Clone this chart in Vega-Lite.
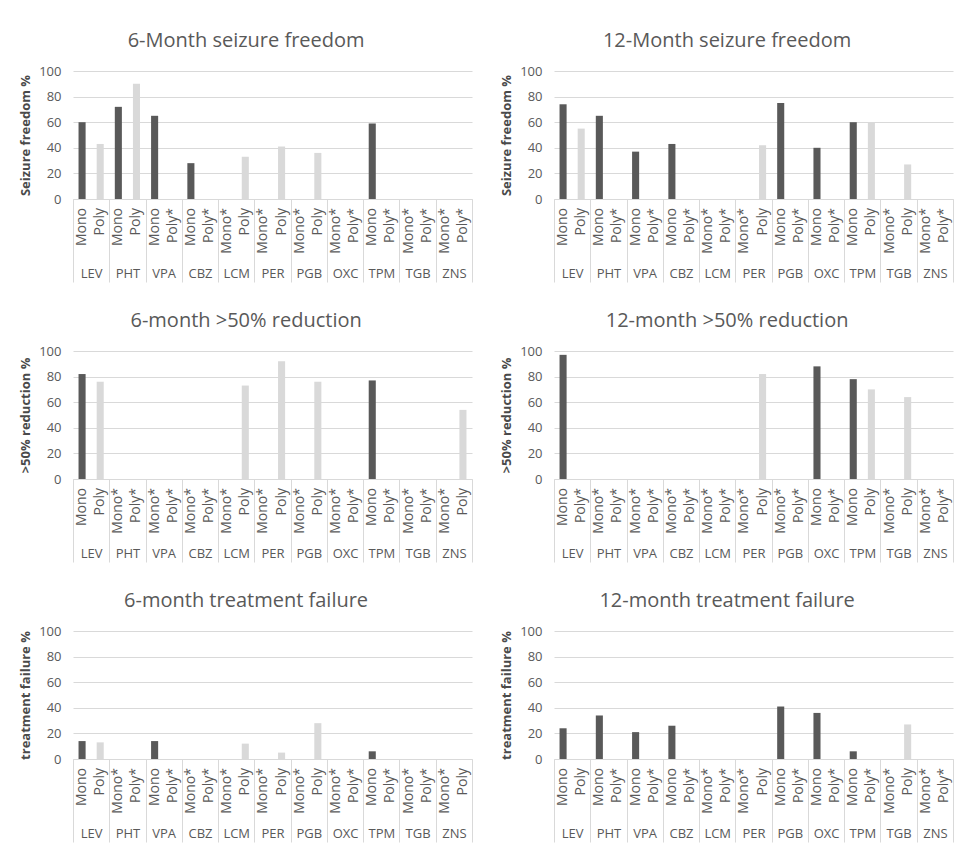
{
  "$schema": "https://vega.github.io/schema/vega-lite/v6.json",
  "padding": {"left": 19, "top": 31, "right": 0, "bottom": 0},
  "background": "white",
  "config": {
    "font": "Open Sans",
    "view": {"stroke": null},
    "title": {"fontSize": 20, "fontWeight": "normal", "color": "#595959", "anchor": "middle", "frame": "bounds", "offset": 14},
    "axis": {"labelColor": "#595959", "labelFontSize": 13, "titleColor": "#4A4A4A", "titleFontSize": 13, "titleFontWeight": "bold"},
    "axisY": {"values": [0, 20, 40, 60, 80, 100], "tickCount": 6, "labelOverlap": false, "domain": false, "ticks": false, "gridColor": "#D9D9D9", "labelPadding": 12, "titlePadding": 6}
  },
  "datasets": {
    "rows": [
      {"panel": "p1", "drug": "LEV", "arm": "Mono", "label": "Mono", "value": 60},
      {"panel": "p1", "drug": "LEV", "arm": "Poly", "label": "Poly", "value": 43},
      {"panel": "p1", "drug": "PHT", "arm": "Mono", "label": "Mono", "value": 72},
      {"panel": "p1", "drug": "PHT", "arm": "Poly", "label": "Poly", "value": 90},
      {"panel": "p1", "drug": "VPA", "arm": "Mono", "label": "Mono", "value": 65},
      {"panel": "p1", "drug": "VPA", "arm": "Poly", "label": "Poly*", "value": null},
      {"panel": "p1", "drug": "CBZ", "arm": "Mono", "label": "Mono", "value": 28},
      {"panel": "p1", "drug": "CBZ", "arm": "Poly", "label": "Poly*", "value": null},
      {"panel": "p1", "drug": "LCM", "arm": "Mono", "label": "Mono*", "value": null},
      {"panel": "p1", "drug": "LCM", "arm": "Poly", "label": "Poly", "value": 33},
      {"panel": "p1", "drug": "PER", "arm": "Mono", "label": "Mono*", "value": null},
      {"panel": "p1", "drug": "PER", "arm": "Poly", "label": "Poly", "value": 41},
      {"panel": "p1", "drug": "PGB", "arm": "Mono", "label": "Mono*", "value": null},
      {"panel": "p1", "drug": "PGB", "arm": "Poly", "label": "Poly", "value": 36},
      {"panel": "p1", "drug": "OXC", "arm": "Mono", "label": "Mono*", "value": null},
      {"panel": "p1", "drug": "OXC", "arm": "Poly", "label": "Poly*", "value": null},
      {"panel": "p1", "drug": "TPM", "arm": "Mono", "label": "Mono", "value": 59},
      {"panel": "p1", "drug": "TPM", "arm": "Poly", "label": "Poly*", "value": null},
      {"panel": "p1", "drug": "TGB", "arm": "Mono", "label": "Mono*", "value": null},
      {"panel": "p1", "drug": "TGB", "arm": "Poly", "label": "Poly*", "value": null},
      {"panel": "p1", "drug": "ZNS", "arm": "Mono", "label": "Mono*", "value": null},
      {"panel": "p1", "drug": "ZNS", "arm": "Poly", "label": "Poly*", "value": null},

      {"panel": "p2", "drug": "LEV", "arm": "Mono", "label": "Mono", "value": 74},
      {"panel": "p2", "drug": "LEV", "arm": "Poly", "label": "Poly", "value": 55},
      {"panel": "p2", "drug": "PHT", "arm": "Mono", "label": "Mono", "value": 65},
      {"panel": "p2", "drug": "PHT", "arm": "Poly", "label": "Poly*", "value": null},
      {"panel": "p2", "drug": "VPA", "arm": "Mono", "label": "Mono", "value": 37},
      {"panel": "p2", "drug": "VPA", "arm": "Poly", "label": "Poly*", "value": null},
      {"panel": "p2", "drug": "CBZ", "arm": "Mono", "label": "Mono", "value": 43},
      {"panel": "p2", "drug": "CBZ", "arm": "Poly", "label": "Poly*", "value": null},
      {"panel": "p2", "drug": "LCM", "arm": "Mono", "label": "Mono*", "value": null},
      {"panel": "p2", "drug": "LCM", "arm": "Poly", "label": "Poly*", "value": null},
      {"panel": "p2", "drug": "PER", "arm": "Mono", "label": "Mono*", "value": null},
      {"panel": "p2", "drug": "PER", "arm": "Poly", "label": "Poly", "value": 42},
      {"panel": "p2", "drug": "PGB", "arm": "Mono", "label": "Mono", "value": 75},
      {"panel": "p2", "drug": "PGB", "arm": "Poly", "label": "Poly*", "value": null},
      {"panel": "p2", "drug": "OXC", "arm": "Mono", "label": "Mono", "value": 40},
      {"panel": "p2", "drug": "OXC", "arm": "Poly", "label": "Poly*", "value": null},
      {"panel": "p2", "drug": "TPM", "arm": "Mono", "label": "Mono", "value": 60},
      {"panel": "p2", "drug": "TPM", "arm": "Poly", "label": "Poly", "value": 60},
      {"panel": "p2", "drug": "TGB", "arm": "Mono", "label": "Mono*", "value": null},
      {"panel": "p2", "drug": "TGB", "arm": "Poly", "label": "Poly", "value": 27},
      {"panel": "p2", "drug": "ZNS", "arm": "Mono", "label": "Mono*", "value": null},
      {"panel": "p2", "drug": "ZNS", "arm": "Poly", "label": "Poly*", "value": null},

      {"panel": "p3", "drug": "LEV", "arm": "Mono", "label": "Mono", "value": 82},
      {"panel": "p3", "drug": "LEV", "arm": "Poly", "label": "Poly", "value": 76},
      {"panel": "p3", "drug": "PHT", "arm": "Mono", "label": "Mono*", "value": null},
      {"panel": "p3", "drug": "PHT", "arm": "Poly", "label": "Poly*", "value": null},
      {"panel": "p3", "drug": "VPA", "arm": "Mono", "label": "Mono*", "value": null},
      {"panel": "p3", "drug": "VPA", "arm": "Poly", "label": "Poly*", "value": null},
      {"panel": "p3", "drug": "CBZ", "arm": "Mono", "label": "Mono*", "value": null},
      {"panel": "p3", "drug": "CBZ", "arm": "Poly", "label": "Poly*", "value": null},
      {"panel": "p3", "drug": "LCM", "arm": "Mono", "label": "Mono*", "value": null},
      {"panel": "p3", "drug": "LCM", "arm": "Poly", "label": "Poly", "value": 73},
      {"panel": "p3", "drug": "PER", "arm": "Mono", "label": "Mono*", "value": null},
      {"panel": "p3", "drug": "PER", "arm": "Poly", "label": "Poly", "value": 92},
      {"panel": "p3", "drug": "PGB", "arm": "Mono", "label": "Mono*", "value": null},
      {"panel": "p3", "drug": "PGB", "arm": "Poly", "label": "Poly", "value": 76},
      {"panel": "p3", "drug": "OXC", "arm": "Mono", "label": "Mono*", "value": null},
      {"panel": "p3", "drug": "OXC", "arm": "Poly", "label": "Poly*", "value": null},
      {"panel": "p3", "drug": "TPM", "arm": "Mono", "label": "Mono", "value": 77},
      {"panel": "p3", "drug": "TPM", "arm": "Poly", "label": "Poly*", "value": null},
      {"panel": "p3", "drug": "TGB", "arm": "Mono", "label": "Mono*", "value": null},
      {"panel": "p3", "drug": "TGB", "arm": "Poly", "label": "Poly*", "value": null},
      {"panel": "p3", "drug": "ZNS", "arm": "Mono", "label": "Mono*", "value": null},
      {"panel": "p3", "drug": "ZNS", "arm": "Poly", "label": "Poly", "value": 54},

      {"panel": "p4", "drug": "LEV", "arm": "Mono", "label": "Mono", "value": 97},
      {"panel": "p4", "drug": "LEV", "arm": "Poly", "label": "Poly*", "value": null},
      {"panel": "p4", "drug": "PHT", "arm": "Mono", "label": "Mono*", "value": null},
      {"panel": "p4", "drug": "PHT", "arm": "Poly", "label": "Poly*", "value": null},
      {"panel": "p4", "drug": "VPA", "arm": "Mono", "label": "Mono*", "value": null},
      {"panel": "p4", "drug": "VPA", "arm": "Poly", "label": "Poly*", "value": null},
      {"panel": "p4", "drug": "CBZ", "arm": "Mono", "label": "Mono*", "value": null},
      {"panel": "p4", "drug": "CBZ", "arm": "Poly", "label": "Poly*", "value": null},
      {"panel": "p4", "drug": "LCM", "arm": "Mono", "label": "Mono*", "value": null},
      {"panel": "p4", "drug": "LCM", "arm": "Poly", "label": "Poly*", "value": null},
      {"panel": "p4", "drug": "PER", "arm": "Mono", "label": "Mono*", "value": null},
      {"panel": "p4", "drug": "PER", "arm": "Poly", "label": "Poly", "value": 82},
      {"panel": "p4", "drug": "PGB", "arm": "Mono", "label": "Mono*", "value": null},
      {"panel": "p4", "drug": "PGB", "arm": "Poly", "label": "Poly*", "value": null},
      {"panel": "p4", "drug": "OXC", "arm": "Mono", "label": "Mono", "value": 88},
      {"panel": "p4", "drug": "OXC", "arm": "Poly", "label": "Poly*", "value": null},
      {"panel": "p4", "drug": "TPM", "arm": "Mono", "label": "Mono", "value": 78},
      {"panel": "p4", "drug": "TPM", "arm": "Poly", "label": "Poly", "value": 70},
      {"panel": "p4", "drug": "TGB", "arm": "Mono", "label": "Mono*", "value": null},
      {"panel": "p4", "drug": "TGB", "arm": "Poly", "label": "Poly", "value": 64},
      {"panel": "p4", "drug": "ZNS", "arm": "Mono", "label": "Mono*", "value": null},
      {"panel": "p4", "drug": "ZNS", "arm": "Poly", "label": "Poly*", "value": null},

      {"panel": "p5", "drug": "LEV", "arm": "Mono", "label": "Mono", "value": 14},
      {"panel": "p5", "drug": "LEV", "arm": "Poly", "label": "Poly", "value": 13},
      {"panel": "p5", "drug": "PHT", "arm": "Mono", "label": "Mono*", "value": null},
      {"panel": "p5", "drug": "PHT", "arm": "Poly", "label": "Poly*", "value": null},
      {"panel": "p5", "drug": "VPA", "arm": "Mono", "label": "Mono", "value": 14},
      {"panel": "p5", "drug": "VPA", "arm": "Poly", "label": "Poly*", "value": null},
      {"panel": "p5", "drug": "CBZ", "arm": "Mono", "label": "Mono*", "value": null},
      {"panel": "p5", "drug": "CBZ", "arm": "Poly", "label": "Poly*", "value": null},
      {"panel": "p5", "drug": "LCM", "arm": "Mono", "label": "Mono*", "value": null},
      {"panel": "p5", "drug": "LCM", "arm": "Poly", "label": "Poly", "value": 12},
      {"panel": "p5", "drug": "PER", "arm": "Mono", "label": "Mono*", "value": null},
      {"panel": "p5", "drug": "PER", "arm": "Poly", "label": "Poly", "value": 5},
      {"panel": "p5", "drug": "PGB", "arm": "Mono", "label": "Mono*", "value": null},
      {"panel": "p5", "drug": "PGB", "arm": "Poly", "label": "Poly", "value": 28},
      {"panel": "p5", "drug": "OXC", "arm": "Mono", "label": "Mono*", "value": null},
      {"panel": "p5", "drug": "OXC", "arm": "Poly", "label": "Poly*", "value": null},
      {"panel": "p5", "drug": "TPM", "arm": "Mono", "label": "Mono", "value": 6},
      {"panel": "p5", "drug": "TPM", "arm": "Poly", "label": "Poly*", "value": null},
      {"panel": "p5", "drug": "TGB", "arm": "Mono", "label": "Mono*", "value": null},
      {"panel": "p5", "drug": "TGB", "arm": "Poly", "label": "Poly*", "value": null},
      {"panel": "p5", "drug": "ZNS", "arm": "Mono", "label": "Mono*", "value": null},
      {"panel": "p5", "drug": "ZNS", "arm": "Poly", "label": "Poly", "value": 0},

      {"panel": "p6", "drug": "LEV", "arm": "Mono", "label": "Mono", "value": 24},
      {"panel": "p6", "drug": "LEV", "arm": "Poly", "label": "Poly", "value": 0},
      {"panel": "p6", "drug": "PHT", "arm": "Mono", "label": "Mono", "value": 34},
      {"panel": "p6", "drug": "PHT", "arm": "Poly", "label": "Poly*", "value": null},
      {"panel": "p6", "drug": "VPA", "arm": "Mono", "label": "Mono", "value": 21},
      {"panel": "p6", "drug": "VPA", "arm": "Poly", "label": "Poly*", "value": null},
      {"panel": "p6", "drug": "CBZ", "arm": "Mono", "label": "Mono", "value": 26},
      {"panel": "p6", "drug": "CBZ", "arm": "Poly", "label": "Poly*", "value": null},
      {"panel": "p6", "drug": "LCM", "arm": "Mono", "label": "Mono*", "value": null},
      {"panel": "p6", "drug": "LCM", "arm": "Poly", "label": "Poly*", "value": null},
      {"panel": "p6", "drug": "PER", "arm": "Mono", "label": "Mono*", "value": null},
      {"panel": "p6", "drug": "PER", "arm": "Poly", "label": "Poly", "value": 0},
      {"panel": "p6", "drug": "PGB", "arm": "Mono", "label": "Mono", "value": 41},
      {"panel": "p6", "drug": "PGB", "arm": "Poly", "label": "Poly*", "value": null},
      {"panel": "p6", "drug": "OXC", "arm": "Mono", "label": "Mono", "value": 36},
      {"panel": "p6", "drug": "OXC", "arm": "Poly", "label": "Poly*", "value": null},
      {"panel": "p6", "drug": "TPM", "arm": "Mono", "label": "Mono", "value": 6},
      {"panel": "p6", "drug": "TPM", "arm": "Poly", "label": "Poly*", "value": null},
      {"panel": "p6", "drug": "TGB", "arm": "Mono", "label": "Mono*", "value": null},
      {"panel": "p6", "drug": "TGB", "arm": "Poly", "label": "Poly", "value": 27},
      {"panel": "p6", "drug": "ZNS", "arm": "Mono", "label": "Mono*", "value": null},
      {"panel": "p6", "drug": "ZNS", "arm": "Poly", "label": "Poly*", "value": null}
    ]
  },
  "data": {"name": "rows"},
  "columns": 2,
  "spacing": {"row": 28, "column": 27},
  "concat": [
    {
      "title": "6-Month seizure freedom",
      "width": 399, "height": 128,
      "transform": [{"filter": "datum.panel === 'p1'"}],
      "encoding": {
        "x": {"field": "drug", "type": "nominal", "sort": ["LEV", "PHT", "VPA", "CBZ", "LCM", "PER", "PGB", "OXC", "TPM", "TGB", "ZNS"], "scale": {"paddingInner": 0, "paddingOuter": 0}, "axis": {"title": null, "labelAngle": 0, "tickBand": "extent", "tickSize": 83, "tickColor": "#D9D9D9", "domainColor": "#D9D9D9", "labelPadding": -15, "grid": false}},
        "xOffset": {"field": "arm", "type": "nominal", "scale": {"domain": ["Mono", "Poly"], "paddingInner": 0.61, "paddingOuter": 0.305}}
      },
      "layer": [
        {"mark": {"type": "bar"}, "encoding": {"y": {"field": "value", "type": "quantitative", "scale": {"domain": [0, 100], "nice": false}, "title": "Seizure freedom %"}, "color": {"field": "arm", "type": "nominal", "scale": {"domain": ["Mono", "Poly"], "range": ["#595959", "#D9D9D9"]}, "legend": null}}},
        {"mark": {"type": "text", "angle": 270, "align": "right", "baseline": "middle", "dx": -9, "fontSize": 14, "color": "#595959"}, "encoding": {"y": {"datum": 0, "type": "quantitative", "title": "Seizure freedom %"}, "text": {"field": "label"}}}
      ]
    },
    {
      "title": "12-Month seizure freedom",
      "width": 399, "height": 128,
      "transform": [{"filter": "datum.panel === 'p2'"}],
      "encoding": {
        "x": {"field": "drug", "type": "nominal", "sort": ["LEV", "PHT", "VPA", "CBZ", "LCM", "PER", "PGB", "OXC", "TPM", "TGB", "ZNS"], "scale": {"paddingInner": 0, "paddingOuter": 0}, "axis": {"title": null, "labelAngle": 0, "tickBand": "extent", "tickSize": 83, "tickColor": "#D9D9D9", "domainColor": "#D9D9D9", "labelPadding": -15, "grid": false}},
        "xOffset": {"field": "arm", "type": "nominal", "scale": {"domain": ["Mono", "Poly"], "paddingInner": 0.61, "paddingOuter": 0.305}}
      },
      "layer": [
        {"mark": {"type": "bar"}, "encoding": {"y": {"field": "value", "type": "quantitative", "scale": {"domain": [0, 100], "nice": false}, "title": "Seizure freedom %"}, "color": {"field": "arm", "type": "nominal", "scale": {"domain": ["Mono", "Poly"], "range": ["#595959", "#D9D9D9"]}, "legend": null}}},
        {"mark": {"type": "text", "angle": 270, "align": "right", "baseline": "middle", "dx": -9, "fontSize": 14, "color": "#595959"}, "encoding": {"y": {"datum": 0, "type": "quantitative", "title": "Seizure freedom %"}, "text": {"field": "label"}}}
      ]
    },
    {
      "title": "6-month >50%  reduction",
      "width": 399, "height": 128,
      "transform": [{"filter": "datum.panel === 'p3'"}],
      "encoding": {
        "x": {"field": "drug", "type": "nominal", "sort": ["LEV", "PHT", "VPA", "CBZ", "LCM", "PER", "PGB", "OXC", "TPM", "TGB", "ZNS"], "scale": {"paddingInner": 0, "paddingOuter": 0}, "axis": {"title": null, "labelAngle": 0, "tickBand": "extent", "tickSize": 83, "tickColor": "#D9D9D9", "domainColor": "#D9D9D9", "labelPadding": -15, "grid": false}},
        "xOffset": {"field": "arm", "type": "nominal", "scale": {"domain": ["Mono", "Poly"], "paddingInner": 0.61, "paddingOuter": 0.305}}
      },
      "layer": [
        {"mark": {"type": "bar"}, "encoding": {"y": {"field": "value", "type": "quantitative", "scale": {"domain": [0, 100], "nice": false}, "title": ">50% reduction %"}, "color": {"field": "arm", "type": "nominal", "scale": {"domain": ["Mono", "Poly"], "range": ["#595959", "#D9D9D9"]}, "legend": null}}},
        {"mark": {"type": "text", "angle": 270, "align": "right", "baseline": "middle", "dx": -9, "fontSize": 14, "color": "#595959"}, "encoding": {"y": {"datum": 0, "type": "quantitative", "title": ">50% reduction %"}, "text": {"field": "label"}}}
      ]
    },
    {
      "title": "12-month >50%  reduction",
      "width": 399, "height": 128,
      "transform": [{"filter": "datum.panel === 'p4'"}],
      "encoding": {
        "x": {"field": "drug", "type": "nominal", "sort": ["LEV", "PHT", "VPA", "CBZ", "LCM", "PER", "PGB", "OXC", "TPM", "TGB", "ZNS"], "scale": {"paddingInner": 0, "paddingOuter": 0}, "axis": {"title": null, "labelAngle": 0, "tickBand": "extent", "tickSize": 83, "tickColor": "#D9D9D9", "domainColor": "#D9D9D9", "labelPadding": -15, "grid": false}},
        "xOffset": {"field": "arm", "type": "nominal", "scale": {"domain": ["Mono", "Poly"], "paddingInner": 0.61, "paddingOuter": 0.305}}
      },
      "layer": [
        {"mark": {"type": "bar"}, "encoding": {"y": {"field": "value", "type": "quantitative", "scale": {"domain": [0, 100], "nice": false}, "title": ">50% reduction %"}, "color": {"field": "arm", "type": "nominal", "scale": {"domain": ["Mono", "Poly"], "range": ["#595959", "#D9D9D9"]}, "legend": null}}},
        {"mark": {"type": "text", "angle": 270, "align": "right", "baseline": "middle", "dx": -9, "fontSize": 14, "color": "#595959"}, "encoding": {"y": {"datum": 0, "type": "quantitative", "title": ">50% reduction %"}, "text": {"field": "label"}}}
      ]
    },
    {
      "title": "6-month treatment failure",
      "width": 399, "height": 128,
      "transform": [{"filter": "datum.panel === 'p5'"}],
      "encoding": {
        "x": {"field": "drug", "type": "nominal", "sort": ["LEV", "PHT", "VPA", "CBZ", "LCM", "PER", "PGB", "OXC", "TPM", "TGB", "ZNS"], "scale": {"paddingInner": 0, "paddingOuter": 0}, "axis": {"title": null, "labelAngle": 0, "tickBand": "extent", "tickSize": 83, "tickColor": "#D9D9D9", "domainColor": "#D9D9D9", "labelPadding": -15, "grid": false}},
        "xOffset": {"field": "arm", "type": "nominal", "scale": {"domain": ["Mono", "Poly"], "paddingInner": 0.61, "paddingOuter": 0.305}}
      },
      "layer": [
        {"mark": {"type": "bar"}, "encoding": {"y": {"field": "value", "type": "quantitative", "scale": {"domain": [0, 100], "nice": false}, "title": "treatment failure %"}, "color": {"field": "arm", "type": "nominal", "scale": {"domain": ["Mono", "Poly"], "range": ["#595959", "#D9D9D9"]}, "legend": null}}},
        {"mark": {"type": "text", "angle": 270, "align": "right", "baseline": "middle", "dx": -9, "fontSize": 14, "color": "#595959"}, "encoding": {"y": {"datum": 0, "type": "quantitative", "title": "treatment failure %"}, "text": {"field": "label"}}}
      ]
    },
    {
      "title": "12-month treatment failure",
      "width": 399, "height": 128,
      "transform": [{"filter": "datum.panel === 'p6'"}],
      "encoding": {
        "x": {"field": "drug", "type": "nominal", "sort": ["LEV", "PHT", "VPA", "CBZ", "LCM", "PER", "PGB", "OXC", "TPM", "TGB", "ZNS"], "scale": {"paddingInner": 0, "paddingOuter": 0}, "axis": {"title": null, "labelAngle": 0, "tickBand": "extent", "tickSize": 83, "tickColor": "#D9D9D9", "domainColor": "#D9D9D9", "labelPadding": -15, "grid": false}},
        "xOffset": {"field": "arm", "type": "nominal", "scale": {"domain": ["Mono", "Poly"], "paddingInner": 0.61, "paddingOuter": 0.305}}
      },
      "layer": [
        {"mark": {"type": "bar"}, "encoding": {"y": {"field": "value", "type": "quantitative", "scale": {"domain": [0, 100], "nice": false}, "title": "treatment failure %"}, "color": {"field": "arm", "type": "nominal", "scale": {"domain": ["Mono", "Poly"], "range": ["#595959", "#D9D9D9"]}, "legend": null}}},
        {"mark": {"type": "text", "angle": 270, "align": "right", "baseline": "middle", "dx": -9, "fontSize": 14, "color": "#595959"}, "encoding": {"y": {"datum": 0, "type": "quantitative", "title": "treatment failure %"}, "text": {"field": "label"}}}
      ]
    }
  ]
}
